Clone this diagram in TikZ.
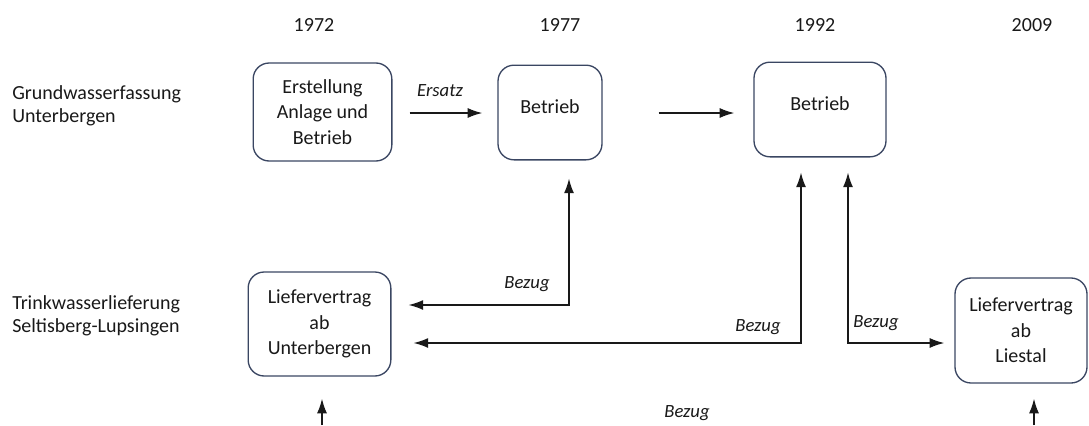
\documentclass[tikz,border=0pt]{standalone}
\usepackage{fontspec}
\setmainfont{Carlito}
\usepackage{xcolor}
\usetikzlibrary{arrows.meta,positioning}
\definecolor{frame}{RGB}{58,70,98}
\definecolor{ink}{RGB}{25,25,25}
\begin{document}
\begin{tikzpicture}[
  x=0.75pt, y=-0.75pt,
  font=\fontsize{15}{19}\selectfont, text=ink,
  box/.style={draw=frame, line width=1pt, rounded corners=12pt, align=center, inner sep=1pt},
  year/.style={inner sep=0pt},
  row/.style={align=left, anchor=west, inner sep=0pt, font=\fontsize{15}{17.5}\selectfont},
  tag/.style={inner sep=0pt, font=\fontsize{14}{16}\selectfont\itshape},
  arr/.style={line width=1.1pt, draw=ink},
  >={Latex[length=11pt,width=7.5pt]}
]
\useasboundingbox (0,0) rectangle (1089,425);

% Jahre
\node[year] (y72) at (314,25) {1972};
\node[year] (y77) at (560,25) {1977};
\node[year] (y92) at (815,25) {1992};
\node[year] (y09) at (1032,25) {2009};

% Zeilen
\node[row] (rgw) at (12,106) {Grundwasserfassung\\Unterbergen};
\node[row] (rtw) at (12,316) {Trinkwasserlieferung\\Seltisberg-Lupsingen};

% Grundwasserfassung
\node[box, minimum width=104pt, minimum height=73.5pt] (anl) at (322.5,112) {Erstellung\\Anlage und\\Betrieb};
\node[box, minimum width=78pt, minimum height=71pt, text depth=9pt] (bt1) at (550,112.5) {Betrieb};
\node[box, minimum width=99pt, minimum height=71pt, text depth=9pt] (bt2) at (820,109.5) {Betrieb};
\draw[arr, ->, shorten <=12.75pt, shorten >=11.25pt] (anl.east |- 0,113) -- (bt1.west |- 0,113);
\node[tag] (ersatz) at (440,91) {Ersatz};
\draw[arr, ->, shorten <=42pt, shorten >=14.25pt] (bt1.east |- 0,113) -- (bt2.west |- 0,113);

% Liefervertraege
\node[box, minimum width=107pt, minimum height=78pt] (lvu) at (319.5,324) {Liefervertrag\\ab\\Unterbergen};
\node[box, minimum width=99pt, minimum height=78.75pt] (lvl) at (1021,330.5) {Liefervertrag\\ab\\Liestal};

% Bezug
\coordinate (k1) at (569,305);
\coordinate (k2) at (801,343);
\coordinate (k3) at (848,343);
\draw[arr, <->, shorten <=12.75pt, shorten >=13.5pt] (lvu.east |- k1) -- (k1) -- (k1 |- bt1.south);
\node[tag] (bz1) at (527,284) {Bezug};
\draw[arr, <->, shorten <=16.5pt, shorten >=11.25pt] (lvu.east |- k2) -- (k2) -- (k2 |- bt2.south);
\node[tag] (bz2) at (758,327) {Bezug};
\draw[arr, <->, shorten <=11.25pt, shorten >=7.5pt] (k3 |- bt2.south) -- (k3) -- (lvl.west |- k3);
\node[tag] (bz3) at (876,323) {Bezug};

\coordinate (d0) at (322,425);
\coordinate (e0) at (1034,425);
\draw[arr, ->, shorten >=16.5pt] (d0) -- (d0 |- lvu.south);
\draw[arr, ->, shorten >=11.25pt] (e0) -- (e0 |- lvl.south);
\node[tag] (bz4) at (687,413) {Bezug};
\end{tikzpicture}
\end{document}
